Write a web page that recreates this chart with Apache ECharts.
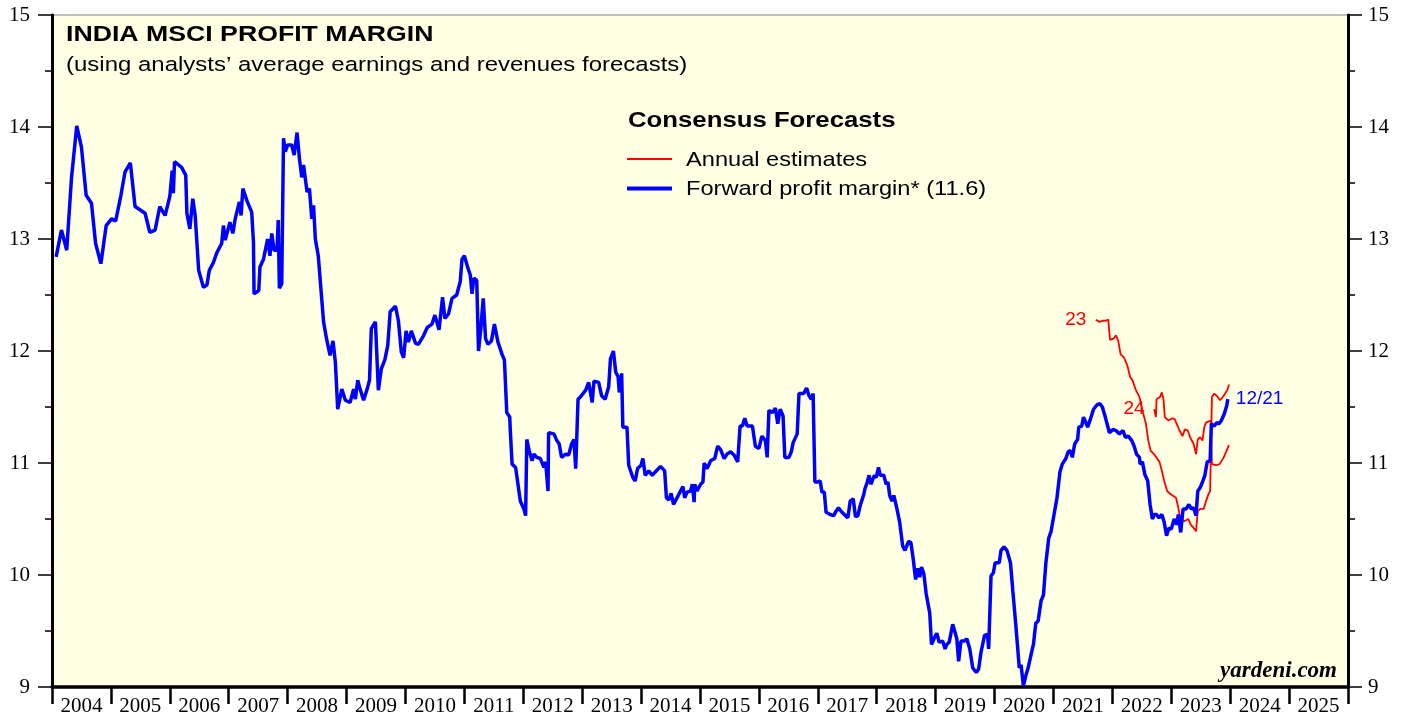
<!DOCTYPE html>
<html>
<head>
<meta charset="utf-8">
<style>
  html, body { margin: 0; padding: 0; background: #ffffff; }
  #chart { width: 1407px; height: 719px; }
</style>
</head>
<body>
<div id="chart"></div>
<script src="https://cdn.jsdelivr.net/npm/echarts@6/dist/echarts.min.js"></script>
<script>
// forward profit margin (weekly), x in decimal years
var fwdDates = [
  2004.07, 2004.16, 2004.25, 2004.33, 2004.42, 2004.50, 2004.58, 2004.67, 2004.74, 2004.83,
  2004.92, 2005.01, 2005.08, 2005.17, 2005.24, 2005.33, 2005.41, 2005.58, 2005.66, 2005.75,
  2005.83, 2005.92, 2006.00, 2006.04, 2006.06, 2006.08, 2006.20, 2006.27, 2006.29, 2006.34,
  2006.39, 2006.43, 2006.49, 2006.57, 2006.63, 2006.67, 2006.74, 2006.80, 2006.88, 2006.91,
  2006.94, 2007.02, 2007.07, 2007.11, 2007.18, 2007.21, 2007.24, 2007.31, 2007.39, 2007.42,
  2007.43, 2007.51, 2007.53, 2007.59, 2007.66, 2007.70, 2007.73, 2007.77, 2007.82, 2007.84,
  2007.86, 2007.90, 2007.93, 2007.96, 2008.00, 2008.07, 2008.11, 2008.16, 2008.20, 2008.24,
  2008.27, 2008.33, 2008.37, 2008.41, 2008.44, 2008.47, 2008.52, 2008.61, 2008.66, 2008.69,
  2008.72, 2008.77, 2008.81, 2008.85, 2008.92, 2008.98, 2009.06, 2009.12, 2009.15, 2009.19,
  2009.23, 2009.29, 2009.35, 2009.39, 2009.42, 2009.49, 2009.54, 2009.59, 2009.65, 2009.70,
  2009.74, 2009.83, 2009.88, 2009.93, 2009.97, 2010.01, 2010.05, 2010.10, 2010.17, 2010.22,
  2010.31, 2010.37, 2010.45, 2010.50, 2010.57, 2010.63, 2010.67, 2010.73, 2010.79, 2010.87,
  2010.93, 2010.96, 2011.00, 2011.06, 2011.10, 2011.13, 2011.16, 2011.21, 2011.24, 2011.28,
  2011.32, 2011.36, 2011.40, 2011.46, 2011.51, 2011.57, 2011.64, 2011.68, 2011.72, 2011.77,
  2011.78, 2011.81, 2011.87, 2011.91, 2011.95, 2012.01, 2012.04, 2012.06, 2012.10, 2012.15,
  2012.18, 2012.23, 2012.29, 2012.35, 2012.38, 2012.42, 2012.43, 2012.52, 2012.57, 2012.61,
  2012.65, 2012.72, 2012.77, 2012.82, 2012.86, 2012.89, 2012.93, 2012.97, 2013.03, 2013.06,
  2013.11, 2013.17, 2013.20, 2013.28, 2013.33, 2013.39, 2013.45, 2013.48, 2013.53, 2013.57,
  2013.61, 2013.63, 2013.67, 2013.69, 2013.76, 2013.79, 2013.86, 2013.90, 2013.94, 2014.00,
  2014.03, 2014.07, 2014.13, 2014.19, 2014.24, 2014.33, 2014.40, 2014.43, 2014.47, 2014.51,
  2014.55, 2014.58, 2014.64, 2014.71, 2014.74, 2014.78, 2014.84, 2014.87, 2014.90, 2014.91,
  2014.95, 2015.01, 2015.05, 2015.07, 2015.12, 2015.18, 2015.25, 2015.30, 2015.35, 2015.41,
  2015.46, 2015.52, 2015.58, 2015.64, 2015.68, 2015.72, 2015.76, 2015.80, 2015.89, 2015.94,
  2016.00, 2016.05, 2016.11, 2016.14, 2016.17, 2016.23, 2016.28, 2016.32, 2016.36, 2016.41,
  2016.44, 2016.51, 2016.55, 2016.58, 2016.65, 2016.68, 2016.76, 2016.81, 2016.85, 2016.89,
  2016.92, 2016.95, 2016.99, 2017.04, 2017.07, 2017.11, 2017.14, 2017.21, 2017.27, 2017.31,
  2017.35, 2017.41, 2017.47, 2017.51, 2017.55, 2017.60, 2017.64, 2017.68, 2017.72, 2017.78,
  2017.80, 2017.84, 2017.87, 2017.90, 2017.96, 2017.99, 2018.03, 2018.06, 2018.12, 2018.16,
  2018.19, 2018.22, 2018.26, 2018.29, 2018.34, 2018.39, 2018.44, 2018.48, 2018.54, 2018.58,
  2018.62, 2018.66, 2018.70, 2018.73, 2018.76, 2018.80, 2018.84, 2018.90, 2018.93, 2018.98,
  2019.02, 2019.06, 2019.12, 2019.16, 2019.19, 2019.23, 2019.29, 2019.32, 2019.36, 2019.39,
  2019.43, 2019.49, 2019.53, 2019.58, 2019.63, 2019.69, 2019.73, 2019.77, 2019.83, 2019.88,
  2019.90, 2019.93, 2019.94, 2019.98, 2020.01, 2020.08, 2020.11, 2020.16, 2020.21, 2020.27,
  2020.31, 2020.36, 2020.42, 2020.45, 2020.49, 2020.53, 2020.57, 2020.62, 2020.66, 2020.70,
  2020.74, 2020.79, 2020.83, 2020.87, 2020.92, 2020.96, 2021.01, 2021.06, 2021.11, 2021.15,
  2021.21, 2021.25, 2021.29, 2021.32, 2021.36, 2021.41, 2021.43, 2021.48, 2021.51, 2021.55,
  2021.58, 2021.62, 2021.68, 2021.74, 2021.79, 2021.83, 2021.88, 2021.91, 2021.95, 2022.01,
  2022.06, 2022.12, 2022.18, 2022.22, 2022.27, 2022.33, 2022.37, 2022.41, 2022.46, 2022.47,
  2022.51, 2022.55, 2022.60, 2022.64, 2022.68, 2022.71, 2022.75, 2022.79, 2022.84, 2022.88,
  2022.92, 2022.96, 2023.00, 2023.05, 2023.09, 2023.12, 2023.16, 2023.20, 2023.25, 2023.30,
  2023.34, 2023.38, 2023.42, 2023.45, 2023.49, 2023.53, 2023.57, 2023.61, 2023.66, 2023.68,
  2023.73, 2023.77, 2023.81, 2023.85, 2023.90, 2023.94, 2023.96
];
var fwdMargin = [
  12.84, 13.08, 12.90, 13.54, 14.01, 13.82, 13.39, 13.32, 12.96, 12.78,
  13.12, 13.18, 13.16, 13.39, 13.60, 13.68, 13.29, 13.23, 13.06, 13.08,
  13.29, 13.21, 13.38, 13.61, 13.41, 13.69, 13.64, 13.57, 13.23, 13.09,
  13.36, 13.21, 12.72, 12.57, 12.59, 12.72, 12.79, 12.88, 12.96, 13.12,
  12.99, 13.15, 13.05, 13.18, 13.33, 13.21, 13.45, 13.34, 13.24, 12.97,
  12.51, 12.54, 12.75, 12.82, 13.00, 12.85, 13.05, 12.90, 12.90, 13.17,
  12.56, 12.60, 13.90, 13.78, 13.84, 13.84, 13.75, 13.95, 13.72, 13.55,
  13.66, 13.42, 13.45, 13.18, 13.30, 13.00, 12.85, 12.26, 12.11, 12.11,
  11.96, 12.09, 11.90, 11.48, 11.66, 11.56, 11.54, 11.66, 11.57, 11.74,
  11.66, 11.56, 11.66, 11.74, 12.20, 12.26, 11.65, 11.84, 11.92, 12.05,
  12.35, 12.40, 12.27, 11.99, 11.94, 12.18, 12.08, 12.18, 12.07, 12.06,
  12.14, 12.21, 12.24, 12.32, 12.19, 12.48, 12.29, 12.33, 12.47, 12.50,
  12.62, 12.82, 12.85, 12.74, 12.68, 12.51, 12.65, 12.63, 12.00, 12.20,
  12.47, 12.11, 12.06, 12.09, 12.24, 12.08, 11.97, 11.92, 11.45, 11.41,
  11.29, 10.99, 10.96, 10.81, 10.66, 10.59, 10.53, 11.21, 11.11, 11.02,
  11.08, 11.05, 11.04, 10.96, 11.01, 10.75, 11.27, 11.26, 11.20, 11.17,
  11.05, 11.08, 11.07, 11.17, 11.21, 10.95, 11.57, 11.59, 11.63, 11.65,
  11.72, 11.54, 11.73, 11.72, 11.60, 11.57, 11.68, 11.93, 12.00, 11.81,
  11.77, 11.63, 11.80, 11.32, 11.32, 10.98, 10.87, 10.84, 10.95, 10.98,
  11.04, 10.89, 10.93, 10.89, 10.92, 10.97, 10.93, 10.69, 10.67, 10.73,
  10.63, 10.63, 10.72, 10.79, 10.69, 10.74, 10.75, 10.81, 10.65, 10.81,
  10.75, 10.81, 10.83, 11.00, 10.95, 11.02, 11.04, 11.15, 11.12, 11.04,
  11.08, 11.10, 11.07, 11.01, 11.33, 11.33, 11.40, 11.33, 11.33, 11.15,
  11.13, 11.24, 11.20, 11.05, 11.47, 11.45, 11.49, 11.35, 11.48, 11.42,
  11.05, 11.05, 11.10, 11.18, 11.26, 11.62, 11.62, 11.67, 11.60, 11.57,
  11.62, 10.83, 10.83, 10.84, 10.74, 10.74, 10.56, 10.54, 10.53, 10.57,
  10.60, 10.56, 10.53, 10.51, 10.66, 10.68, 10.52, 10.53, 10.62, 10.72,
  10.77, 10.83, 10.89, 10.81, 10.89, 10.87, 10.96, 10.89, 10.89, 10.81,
  10.83, 10.71, 10.66, 10.71, 10.60, 10.47, 10.26, 10.22, 10.30, 10.29,
  10.14, 9.96, 10.06, 9.98, 10.07, 10.01, 9.83, 9.66, 9.38, 9.44,
  9.48, 9.40, 9.41, 9.34, 9.38, 9.40, 9.56, 9.55, 9.43, 9.23,
  9.41, 9.41, 9.43, 9.34, 9.17, 9.13, 9.16, 9.31, 9.46, 9.47,
  9.34, 9.35, 9.99, 10.02, 10.11, 10.11, 10.22, 10.25, 10.22, 10.11,
  9.86, 9.56, 9.17, 9.20, 9.01, 9.10, 9.17, 9.29, 9.38, 9.57,
  9.59, 9.77, 9.82, 10.10, 10.33, 10.39, 10.54, 10.69, 10.92, 10.99,
  11.04, 11.10, 11.11, 11.05, 11.17, 11.21, 11.32, 11.33, 11.41, 11.36,
  11.32, 11.38, 11.48, 11.52, 11.53, 11.50, 11.41, 11.42, 11.27, 11.30,
  11.29, 11.26, 11.29, 11.23, 11.24, 11.20, 11.15, 11.08, 11.05, 10.99,
  11.01, 10.90, 10.84, 10.63, 10.50, 10.54, 10.54, 10.51, 10.54, 10.47,
  10.35, 10.42, 10.41, 10.50, 10.45, 10.54, 10.38, 10.59, 10.59, 10.63,
  10.59, 10.60, 10.53, 10.75, 10.78, 10.83, 10.89, 11.01, 11.02, 11.35,
  11.33, 11.36, 11.35, 11.38, 11.44, 11.51, 11.57
];

// annual consensus estimates: 2023 and 2024
var est23Dates = [
  2021.72, 2021.78, 2021.83, 2021.89, 2021.93, 2021.96, 2022.02, 2022.06, 2022.10, 2022.14,
  2022.20, 2022.26, 2022.30, 2022.34, 2022.40, 2022.46, 2022.51, 2022.57, 2022.61, 2022.65,
  2022.72, 2022.80, 2022.84, 2022.88, 2022.93, 2022.99, 2023.08, 2023.12, 2023.15, 2023.22,
  2023.29, 2023.33, 2023.38, 2023.42, 2023.45, 2023.49, 2023.55, 2023.59, 2023.63, 2023.66,
  2023.69, 2023.73, 2023.79, 2023.83, 2023.89, 2023.95, 2023.98
];
var est23Margin = [
  12.28, 12.26, 12.27, 12.27, 12.28, 12.10, 12.11, 12.14, 12.09, 11.97,
  11.94, 11.86, 11.77, 11.74, 11.65, 11.59, 11.47, 11.35, 11.20, 11.11,
  11.07, 11.01, 10.93, 10.84, 10.75, 10.72, 10.69, 10.60, 10.51, 10.48,
  10.50, 10.45, 10.42, 10.39, 10.57, 10.59, 10.59, 10.66, 10.72, 10.75,
  11.59, 11.62, 11.59, 11.56, 11.60, 11.65, 11.70
];
var est24Dates = [
  2022.71, 2022.74, 2022.75, 2022.81, 2022.84, 2022.87, 2022.89, 2022.95, 2023.02, 2023.06,
  2023.14, 2023.19, 2023.23, 2023.28, 2023.32, 2023.38, 2023.42, 2023.45, 2023.49, 2023.53,
  2023.56, 2023.59, 2023.67, 2023.69, 2023.76, 2023.82, 2023.89, 2023.98
];
var est24Margin = [
  11.48, 11.41, 11.57, 11.59, 11.63, 11.56, 11.41, 11.38, 11.40, 11.39,
  11.29, 11.24, 11.30, 11.29, 11.23, 11.17, 11.08, 11.21, 11.23, 11.20,
  11.32, 11.36, 11.38, 10.99, 10.98, 10.99, 11.05, 11.16
];

var estLabels = ['23', '24'];
var lastDateLabel = '12/21';
var titleText = 'INDIA MSCI PROFIT MARGIN';
var subtitleText = '(using analysts\u2019 average earnings and revenues forecasts)';
var legendTitle = 'Consensus Forecasts';
var legendNames = ['Annual estimates', 'Forward profit margin* (11.6)'];
var sourceText = 'yardeni.com';

var SANS = '"Liberation Sans", Arial, Helvetica, sans-serif';
var SERIF = '"Liberation Serif", "Times New Roman", serif';
var STRETCH = 1.17;

function zip(xs, ys) {
    return xs.map(function (x, i) { return [x, ys[i]]; });
}

function startLabel(text, xs, ys) {
    return {
        symbol: 'circle',
        symbolSize: 1,
        itemStyle: { color: 'rgba(0,0,0,0)' },
        label: {
            show: true, position: 'left', distance: 9,
            formatter: text, color: '#ff0000',
            fontFamily: SANS, fontSize: 19
        },
        data: [{ coord: [xs[0], ys[0]] }]
    };
}

function sansText(str, x, y, size, weight) {
    return {
        type: 'text', x: x, y: y, scaleX: STRETCH, silent: true,
        style: {
            text: str, fill: '#000',
            font: (weight || 'normal') + ' ' + size + 'px ' + SANS,
            align: 'left', textAlign: 'left',
            verticalAlign: 'middle', textVerticalAlign: 'middle'
        }
    };
}

var chart = echarts.init(document.getElementById('chart'));

var option = {
    animation: false,
    backgroundColor: '#ffffff',
    grid: {
        left: 52, right: 59, top: 15, bottom: 32,
        show: true, backgroundColor: '#ffffe4',
        borderColor: '#808080', borderWidth: 1
    },
    xAxis: [{
        type: 'value', min: 2004, max: 2026, interval: 1,
        axisLine: { show: true, onZero: false, lineStyle: { color: '#000', width: 3.5 } },
        axisTick: { show: true, length: 17, lineStyle: { color: '#000', width: 2.5 } },
        axisLabel: { show: false },
        splitLine: { show: false }
    }, {
        type: 'value', min: 2004, max: 2026, interval: 0.5, position: 'bottom',
        axisLine: { show: false },
        axisTick: { show: false },
        splitLine: { show: false },
        axisLabel: {
            show: true, margin: 9, color: '#000',
            fontFamily: SERIF, fontSize: 21,
            formatter: function (v) {
                return Math.round(v * 2) % 2 === 1 ? String(Math.floor(v)) : '';
            }
        }
    }],
    yAxis: [{
        type: 'value', min: 9, max: 15, interval: 1, position: 'left',
        axisLine: { show: true, lineStyle: { color: '#000', width: 3 } },
        axisTick: { show: true, length: 14, lineStyle: { color: '#000', width: 1.5 } },
        minorTick: { show: true, splitNumber: 2, length: 7, lineStyle: { color: '#000', width: 1.5 } },
        axisLabel: { margin: 22, color: '#000', fontFamily: SERIF, fontSize: 21 },
        splitLine: { show: false },
        minorSplitLine: { show: false }
    }, {
        type: 'value', min: 9, max: 15, interval: 1, position: 'right',
        axisLine: { show: true, lineStyle: { color: '#000', width: 3 } },
        axisTick: { show: true, length: 14, lineStyle: { color: '#000', width: 1.5 } },
        minorTick: { show: true, splitNumber: 2, length: 7, lineStyle: { color: '#000', width: 1.5 } },
        axisLabel: { margin: 20, color: '#000', fontFamily: SERIF, fontSize: 21 },
        splitLine: { show: false },
        minorSplitLine: { show: false }
    }],
    series: [{
        name: legendNames[0], type: 'line', xAxisIndex: 0, yAxisIndex: 0,
        data: zip(est23Dates, est23Margin),
        showSymbol: false, lineStyle: { color: '#ff0000', width: 1.8 },
        itemStyle: { color: '#ff0000' }, z: 3,
        markPoint: startLabel(estLabels[0], est23Dates, est23Margin)
    }, {
        name: legendNames[0], type: 'line', xAxisIndex: 0, yAxisIndex: 0,
        data: zip(est24Dates, est24Margin),
        showSymbol: false, lineStyle: { color: '#ff0000', width: 1.8 },
        itemStyle: { color: '#ff0000' }, z: 3,
        markPoint: startLabel(estLabels[1], est24Dates, est24Margin)
    }, {
        name: legendNames[1], type: 'line', xAxisIndex: 0, yAxisIndex: 0,
        data: zip(fwdDates, fwdMargin),
        showSymbol: false, lineStyle: { color: '#0000ff', width: 3.5 },
        itemStyle: { color: '#0000ff' }, z: 4,
        endLabel: {
            show: true, formatter: lastDateLabel, distance: 8,
            color: '#0000ff', fontFamily: SANS, fontSize: 19
        }
    }],
    graphic: [
        sansText(titleText, 66, 35, 22.8, 'bold'),
        sansText(subtitleText, 66, 65, 20.5),
        sansText(legendTitle, 628, 121, 22, 'bold'),
        {
            type: 'line', silent: true,
            shape: { x1: 627, y1: 159, x2: 672, y2: 159 },
            style: { stroke: '#ff0000', lineWidth: 2 }
        },
        sansText(legendNames[0], 686, 160, 20.2),
        {
            type: 'line', silent: true,
            shape: { x1: 627, y1: 188.5, x2: 672, y2: 188.5 },
            style: { stroke: '#0000ff', lineWidth: 4 }
        },
        sansText(legendNames[1], 686, 189, 20.2),
        {
            type: 'text', x: 1337, y: 671, silent: true,
            style: {
                text: sourceText, fill: '#000',
                font: 'italic bold 23px ' + SERIF,
                align: 'right', textAlign: 'right',
                verticalAlign: 'middle', textVerticalAlign: 'middle'
            }
        }
    ]
};

chart.setOption(option);
</script>
</body>
</html>
